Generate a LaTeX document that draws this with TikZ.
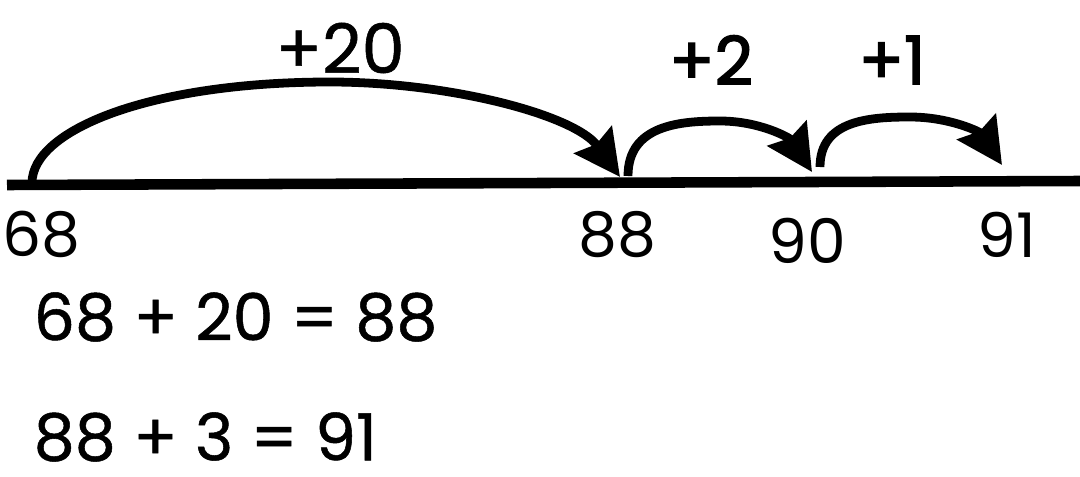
\documentclass[tikz,border=0pt]{standalone}
\usepackage{fontspec}
\setmainfont{Poppins}
\newfontfamily\mediumfont[FakeBold=0.8]{Poppins}
\newfontfamily\jumpfont[FakeBold=2.2]{Poppins}
\usetikzlibrary{arrows.meta, positioning}
\tikzset{
  numline/.style={line width=3pt,line cap=butt},
  jump/.style={line width=2.5pt,-{Stealth[length=13pt,width=13pt,inset=1.5pt]}},
  tick/.style={inner sep=0pt,font=\fontsize{17.5}{20}\selectfont},
  jumplabel/.style={inner sep=0pt,font=\mediumfont\fontsize{19.5}{22}\selectfont},
  jumplabel_b/.style={inner sep=0pt,font=\jumpfont\fontsize{19}{22}\selectfont},
  sumline/.style={inner sep=0pt,anchor=west,font=\mediumfont\fontsize{18.5}{22}\selectfont},
}
\begin{document}
\begin{tikzpicture}[x=0.01cm,y=-0.01cm]
    \useasboundingbox (0,0) rectangle (1080,476);
    % number line
    \coordinate (L) at (7,185);
    \coordinate (R) at (1080,181);
    \draw[numline] (L) -- (R);
    % jump ends
    \coordinate (s68) at (32,183);
    \coordinate (e88) at (620,177);
    \coordinate (s88) at (628,176);
    \coordinate (e90) at (812,172);
    \coordinate (s90) at (820,167);
    \coordinate (e91) at (1002,165);
    \draw[jump] (s68) .. controls (32,130) and (150,82) .. (330,82)
                      .. controls (450,82) and (575,115) .. (e88);
    \draw[jump] (s88) .. controls (628,125) and (680,121) .. (720,121)
                      .. controls (760,121) and (790,138) .. (e90);
    \draw[jump] (s90) .. controls (820,120) and (870,117) .. (910,117)
                      .. controls (950,117) and (980,132) .. (e91);
    % jump labels
    \node[jumplabel] (j20) at (340,48) {+20};
    \node[jumplabel_b] (j2) at (711,60) {+2};
    \node[jumplabel_b] (j1) at (892,60) {+1};
    % numbers under the line
    \node[tick] (n68) at (41,234) {68};
    \node[tick] (n88) at (617,235) {88};
    \node[tick] (n90) at (807,241) {90};
    \node[tick] (n91) at (1007,235) {91};
    % sums
    \node[sumline] (eq1) at (33,317) {68 + 20 = 88};
    \node[sumline] (eq2) at (33,437) {88 + 3 = 91};
\end{tikzpicture}
\end{document}
